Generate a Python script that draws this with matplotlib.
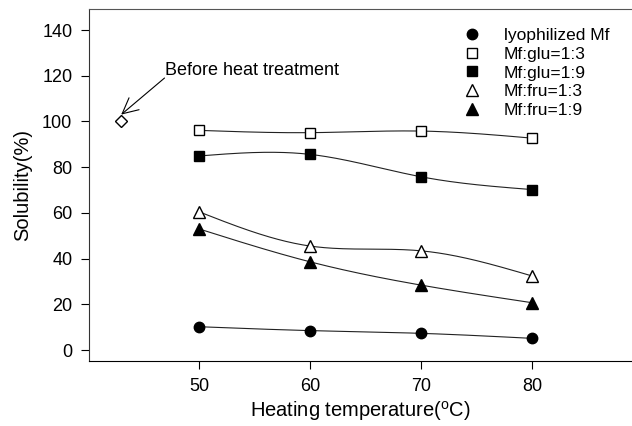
import matplotlib.pyplot as plt
import numpy as np

plt.rcParams['font.family'] = ['Liberation Sans', 'DejaVu Sans']

# Solubility (%) versus heating temperature
temps = [50, 60, 70, 80]
lyophilized = [10.2, 8.5, 7.3, 5.1]
glu_1_3 = [96.1, 95.1, 95.8, 92.7]
glu_1_9 = [84.9, 85.6, 75.8, 70.2]
fru_1_3 = [60.5, 45.5, 43.4, 32.4]
fru_1_9 = [53.0, 38.6, 28.4, 20.7]
before_x = 43
before_y = 100


def smooth(x, y, n=200):
    # natural cubic spline through the points, only for drawing the curve
    x = np.asarray(x, float)
    y = np.asarray(y, float)
    k = len(x)
    h = np.diff(x)
    A = np.zeros((k, k))
    b = np.zeros(k)
    A[0, 0] = A[-1, -1] = 1
    for i in range(1, k - 1):
        A[i, i - 1] = h[i - 1]
        A[i, i] = 2 * (h[i - 1] + h[i])
        A[i, i + 1] = h[i]
        b[i] = 6 * ((y[i + 1] - y[i]) / h[i] - (y[i] - y[i - 1]) / h[i - 1])
    M = np.linalg.solve(A, b)
    xs = np.linspace(x[0], x[-1], n)
    ys = np.empty_like(xs)
    for j, xv in enumerate(xs):
        i = min(np.searchsorted(x, xv, side='right') - 1, k - 2)
        t1 = x[i + 1] - xv
        t0 = xv - x[i]
        ys[j] = (M[i] * t1**3 + M[i + 1] * t0**3) / (6 * h[i]) \
            + (y[i] / h[i] - M[i] * h[i] / 6) * t1 \
            + (y[i + 1] / h[i] - M[i + 1] * h[i] / 6) * t0
    return xs, ys


fig = plt.figure(figsize=(6.32, 4.26), dpi=100)
ax = fig.add_axes([89 / 632, 1 - 361 / 426, 1 - 89 / 632, 352 / 426])

series = [
    (lyophilized, 'o', 'black', 'lyophilized Mf', 7.5),
    (glu_1_3, 's', 'white', 'Mf:glu=1:3', 7),
    (glu_1_9, 's', 'black', 'Mf:glu=1:9', 7),
    (fru_1_3, '^', 'white', 'Mf:fru=1:3', 8),
    (fru_1_9, '^', 'black', 'Mf:fru=1:9', 8),
]
for vals, m, fc, lab, ms in series:
    xs, ys = smooth(temps, vals)
    ax.plot(xs, ys, color='#222222', lw=0.8, zorder=2)
    ax.plot(temps, vals, linestyle='none', marker=m, markerfacecolor=fc,
            markeredgecolor='black', markersize=ms, markeredgewidth=1.0,
            label=lab, zorder=3)

ax.plot([before_x], [before_y], linestyle='none', marker='D', markersize=6,
        markerfacecolor='white', markeredgecolor='black', zorder=3)
ax.text(46.9, 122.5, 'Before heat treatment', fontsize=13, ha='left', va='center')
ax.annotate('', xy=(before_x, before_y + 3), xytext=(46.9, 119),
            arrowprops=dict(arrowstyle='->', color='black', lw=0.8,
                            mutation_scale=28, shrinkA=0, shrinkB=0))

ax.set_xlim(40.1, 89)
ax.set_ylim(-4.8, 149.2)
ax.set_xticks(temps)
ax.set_yticks(np.arange(0, 141, 20))
ax.tick_params(direction='out', length=6, width=0.8, labelsize=13, pad=6)
ax.spines['right'].set_visible(False)
ax.spines['top'].set_color('#555555')
ax.spines['left'].set_color('#333333')
ax.set_xlabel('Heating temperature($^\\mathregular{o}$C)', fontsize=14.5, labelpad=3)
ax.set_ylabel('Solubility(%)', fontsize=14.5, labelpad=7)

ax.legend(loc='upper left', bbox_to_anchor=(0.652, 0.99), frameon=False,
          fontsize=12.5, handletextpad=1.1, labelspacing=0.2, handlelength=1.5)

fig.savefig('out.png', dpi=100)
